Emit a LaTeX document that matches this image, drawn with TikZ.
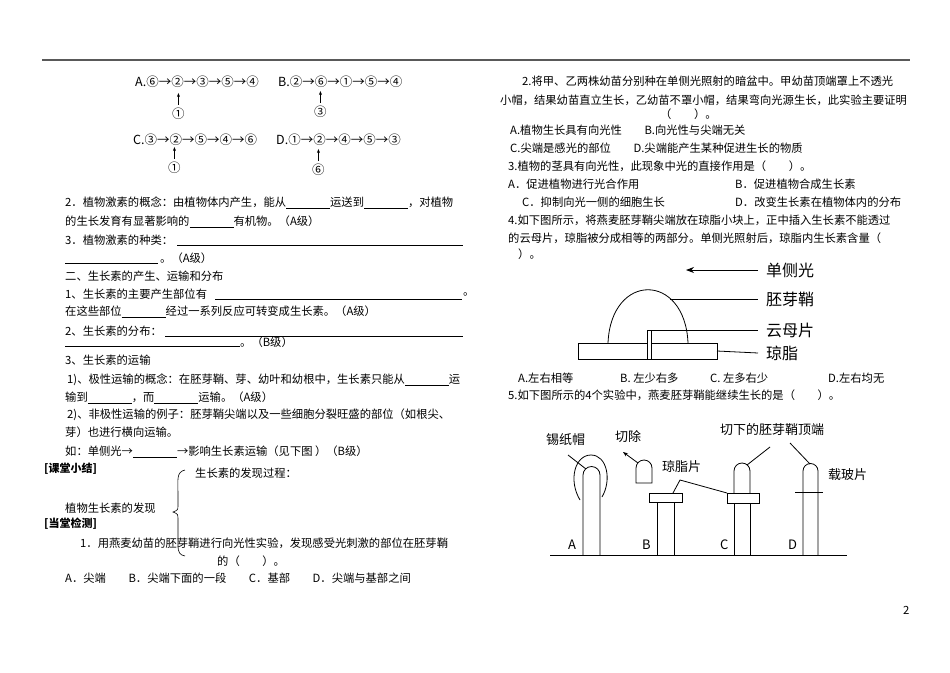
\documentclass[tikz,border=0pt]{standalone}
\usepackage{fontspec}
\newfontfamily\cjk{Noto Sans CJK SC}
\usetikzlibrary{arrows.meta}
\tikzset{
 t/.style={anchor=west,inner sep=0,font=\cjk\fontsize{11.3}{13}\selectfont},
 ch/.style={anchor=west,inner sep=0,font=\cjk\fontsize{12.5}{14}\selectfont},
 lbl/.style={anchor=west,inner sep=0,font=\cjk\fontsize{16}{18}\selectfont},
 lbm/.style={anchor=west,inner sep=0,font=\cjk\fontsize{13}{15}\selectfont},
 blank/.style={line width=0.5pt},
 fig/.style={line width=0.8pt},
 up/.style={-{Stealth[length=4pt]},line width=0.7pt}
}
\begin{document}
\begin{tikzpicture}[x=1pt,y=-1pt]
\useasboundingbox (0,0) rectangle (950,672);
\draw[line width=1.5pt,gray!70!black] (42,60) -- (910,60);
\node[t] (pg) at (903,610) {2};
% chains
\node[ch] (ca) at (135,82) {A.⑥→②→③→⑤→④};
\node[ch] (ca1) at (172,114) {①};
\draw[up] (ca1.north) ++(0,-3) -- ++(0,-12);
\node[ch] (cb) at (278,82) {B.②→⑥→①→⑤→④};
\node[ch] (cb1) at (314,112) {③};
\draw[up] (cb1.north) ++(0,-3) -- ++(0,-12);
\node[ch] (cc) at (133,140) {C.③→②→⑤→④→⑥};
\node[ch] (cc1) at (168,168) {①};
\draw[up] (cc1.north) ++(0,-3) -- ++(0,-12);
\node[ch] (cd) at (276,140) {D.①→②→④→⑤→③};
\node[ch] (cd1) at (312,170) {⑥};
\draw[up] (cd1.north) ++(0,-3) -- ++(0,-12);
% left column
\node[t] (l1) at (65,203) {2．植物激素的概念：由植物体内产生，能从\underline{\hspace{44pt}}运送到\underline{\hspace{44pt}}，对植物};
\node[t] (l2) at (65,222) {的生长发育有显著影响的\underline{\hspace{44pt}}有机物。（A级）};
\node[t] (l3) at (65,240) {3．植物激素的种类：};
\draw[blank] (177,245) -- (463,245);
\draw[blank] (65,263) -- (158,263);
\node[t] (l4) at (160,258) {。（A级）};
\node[t] (l5) at (65,276) {二、生长素的产生、运输和分布};
\node[t] (l6) at (65,294) {1、生长素的主要产生部位有};
\draw[blank] (215,299) -- (462,299);
\node[t] (l6b) at (463,294) {。};
\node[t] (l7) at (65,312) {在这些部位\underline{\hspace{44pt}}经过一系列反应可转变成生长素。（A级）};
\node[t] (l8) at (65,331) {2、生长素的分布：};
\draw[blank] (165,336) -- (463,336);
\draw[blank] (65,346) -- (240,346);
\node[t] (l9) at (240,342) {。（B级）};
\node[t] (l10) at (65,360) {3、生长素的运输};
\node[t] (l11) at (67,380) {1)、极性运输的概念：在胚芽鞘、芽、幼叶和幼根中，生长素只能从\underline{\hspace{44pt}}运};
\node[t] (l12) at (65,398) {输到\underline{\hspace{44pt}}，而\underline{\hspace{44pt}}运输。（A级）};
\node[t] (l13) at (67,415) {2)、非极性运输的例子：胚芽鞘尖端以及一些细胞分裂旺盛的部位（如根尖、};
\node[t] (l14) at (65,432) {芽）也进行横向运输。};
\node[t] (l15) at (65,452) {如：单侧光→\underline{\hspace{44pt}}→影响生长素运输（见下图 ）（B级）};
\node[t,font=\cjk\bfseries\fontsize{11}{12}\selectfont] (h1) at (44,469) {[课堂小结]};
\node[t] (s1) at (195,473) {生长素的发现过程：};
\node[t] (s2) at (65,508) {植物生长素的发现};
\draw[line width=0.6pt] (185,470) .. controls (176,472) and (178,480) .. (178,495)
  -- (178,505) .. controls (178,510) .. (173,512) .. controls (178,514) .. (178,520)
  -- (178,545) .. controls (178,553) and (180,555) .. (185,556);
\node[t,font=\cjk\bfseries\fontsize{11}{12}\selectfont] (h2) at (44,524) {[当堂检测]};
\node[t] (q1) at (80,543) {1．用燕麦幼苗的胚芽鞘进行向光性实验，发现感受光刺激的部位在胚芽鞘};
\node[t] (q1b) at (217,561) {的（　　）。};
\node[t] (q1c) at (65,578) {A．尖端　　B．尖端下面的一段　　C．基部　　D．尖端与基部之间};
% right column
\node[t] (r1) at (522,81) {2.将甲、乙两株幼苗分别种在单侧光照射的暗盆中。甲幼苗顶端罩上不透光};
\node[t] (r2) at (500,100) {小帽，结果幼苗直立生长，乙幼苗不罩小帽，结果弯向光源生长，此实验主要证明};
\node[t] (r3) at (660,114) {（　　）。};
\node[t] (r4) at (510,130) {A.植物生长具有向光性　　B.向光性与尖端无关};
\node[t] (r5) at (510,148) {C.尖端是感光的部位　　D.尖端能产生某种促进生长的物质};
\node[t] (r6) at (508,166) {3.植物的茎具有向光性，此现象中光的直接作用是（　　）。};
\node[t] (r7) at (508,184) {A．促进植物进行光合作用};
\node[t] (r8) at (735,184) {B．促进植物合成生长素};
\node[t] (r9) at (522,202) {C．抑制向光一侧的细胞生长};
\node[t] (r10) at (735,202) {D．改变生长素在植物体内的分布};
\node[t] (r11) at (508,220) {4.如下图所示，将燕麦胚芽鞘尖端放在琼脂小块上，正中插入生长素不能透过};
\node[t] (r12) at (508,238) {的云母片，琼脂被分成相等的两部分。单侧光照射后，琼脂内生长素含量（};
\node[t] (r13) at (518,254) {）。};
% figure 4
\node[lbl] (dg) at (766,270) {单侧光};
\node[lbl] (px) at (766,299) {胚芽鞘};
\node[lbl] (ym) at (766,330) {云母片};
\node[lbl] (qz) at (766,353) {琼脂};
\draw[fig,-{Stealth[length=8pt]}] (dg.west) ++(-8,0) -- (686,270);
\draw[fig] (578,343) rectangle (717,359);
\draw[fig] (608,343) .. controls (611,272) and (685,272) .. (688,343);
\draw[fig,fill=white] (647,330) rectangle (651,359);
\draw[fig] (670,299) -- ([xshift=-8]px.west);
\draw[fig] (651,330) -- ([xshift=-8]ym.west);
\draw[fig] (717,351) -- ([xshift=-8]qz.west);
\node[t] (o1) at (518,378) {A.左右相等};
\node[t] (o2) at (620,378) {B. 左少右多};
\node[t] (o3) at (710,378) {C. 左多右少};
\node[t] (o4) at (828,378) {D.左右均无};
\node[t] (r14) at (508,395) {5.如下图所示的4个实验中，燕麦胚芽鞘能继续生长的是（　　）。};
% figure 5
\draw[fig] (550,555) -- (847,555);
% A
\draw[fig] (583,555) -- (583,475) arc (180:360:8.5) -- (600,555);
\draw[fig] (580,500) .. controls (568,480) and (575,455) .. (591,455) .. controls (607,455) and (612,480) .. (602,497);
\node[lbm] (xz) at (546,440) {锡纸帽};
\draw[fig] (568,455) -- (586,469);
\node[lbm] (la) at (568,545) {A};
% cut tip
\draw[fig] (636,483) -- (636,468) arc (180:360:8) -- (652,483) -- cycle;
\node[lbm] (qc) at (615,437) {切除};
\draw[fig,-{Stealth[length=5pt]}] (638,463) -- (623,452);
% B
\draw[fig] (649,493) rectangle (682,502);
\draw[fig] (657,502) -- (657,555) (674,502) -- (674,555);
\node[lbm] (lb) at (642,545) {B};
\node[lbm] (qzp) at (662,467) {琼脂片};
\draw[fig] (673,493) -- (680,480) -- (727,493);
% C
\draw[fig] (727,493) rectangle (759,503);
\draw[fig] (734,503) -- (734,555) (750,503) -- (750,555);
\draw[fig] (734,493) -- (734,471) arc (180:360:8) -- (750,493);
\node[lbm] (lc) at (720,545) {C};
\node[lbm] (qx) at (720,430) {切下的胚芽鞘顶端};
\draw[fig] (747,465) -- (770,447);
% D
\draw[fig] (803,555) -- (803,471) arc (180:360:7.5) -- (818,555);
\draw[fig] (795,492) -- (823,492);
\node[lbm] (ld) at (788,545) {D};
\node[lbm] (zb) at (828,475) {载玻片};
\draw[fig] (790,443) -- (810,464);
\end{tikzpicture}
\end{document}
